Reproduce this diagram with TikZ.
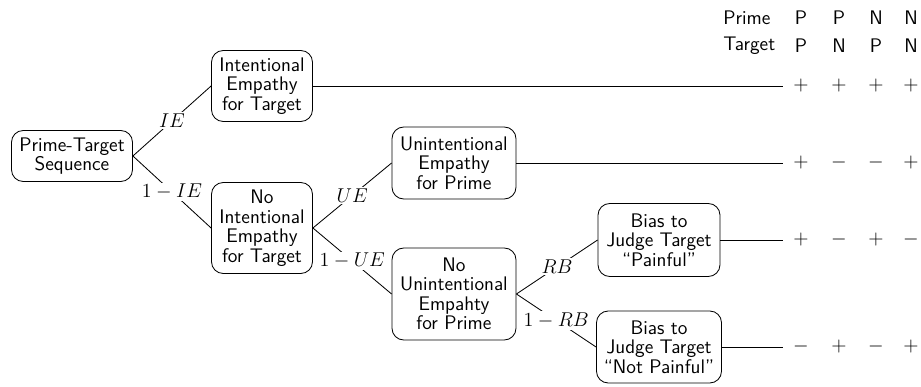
\documentclass[tikz,border=0pt]{standalone}
\begin{document}
\begin{tikzpicture}[x=0.6pt,y=-0.6pt,
  font=\sffamily\fontsize{11.8}{11.7}\selectfont,
  box/.style={draw,rounded corners=7pt,align=center,inner sep=1pt,line width=0.5pt},
  lbl/.style={fill=white,inner sep=1pt,midway},
  conn/.style={line width=0.5pt},
  sgn/.style={inner sep=0pt}]
\useasboundingbox (0,0) rectangle (921,387);
\node[box,minimum width=72.6pt,minimum height=30.6pt] (pts) at (72,156) {Prime-Target\\Sequence};
\node[box,minimum width=60.6pt,minimum height=42.6pt] (ie) at (262,86) {Intentional\\Empathy\\for Target};
\node[box,minimum width=60.6pt,minimum height=54.6pt] (nie) at (262,228) {No\\Intentional\\Empathy\\for Target};
\node[box,minimum width=74.4pt,minimum height=43.2pt] (ue) at (454,163) {Unintentional\\Empathy\\for Prime};
\node[box,minimum width=74.4pt,minimum height=55.2pt] (nue) at (454,294) {No\\Unintentional\\Empahty\\for Prime};
\node[box,minimum width=73.2pt,minimum height=43.8pt] (bp) at (659,240) {Bias to\\Judge Target\\``Painful''};
\node[box,minimum width=75pt,minimum height=43.2pt] (bnp) at (659,347) {Bias to\\Judge Target\\``Not Painful''};

\draw[conn] (pts.east) -- (ie.west) node[lbl] {$IE$};
\draw[conn] (pts.east) -- (nie.west) node[lbl] {$1-IE$};
\draw[conn] (nie.east) -- (ue.west) node[lbl] {$UE$};
\draw[conn] (nie.east) -- (nue.west) node[lbl] {$1-UE$};
\draw[conn] (nue.east) -- (bp.west) node[lbl] {$RB$};
\draw[conn] (nue.east) -- (bnp.west) node[lbl] {$1-RB$};

\coordinate (e1) at (783,86);
\coordinate (e2) at (783,163);
\coordinate (e3) at (783,240);
\coordinate (e4) at (783,347);
\draw[conn] (ie.east) -- (e1);
\draw[conn] (ue.east) -- (e2);
\draw[conn] (bp.east) -- (e3);
\draw[conn] (bnp.east) -- (e4);

\node[anchor=west,inner sep=0pt] (hp) at (723,18) {Prime};
\node[anchor=west,inner sep=0pt] (ht) at (723,46) {Target};
\foreach \x/\a/\b [count=\i] in {801/P/P,839/P/N,876/N/P,911/N/N}{
  \node[sgn] (hp\i) at (\x,18) {\a};
  \node[sgn] (ht\i) at (\x,46) {\b};
}
\foreach \x/\s [count=\i] in {801/+,839/+,876/+,911/+}{\node[sgn] (ra\i) at (\x,86) {$\s$};}
\foreach \x/\s [count=\i] in {801/+,839/-,876/-,911/+}{\node[sgn] (rb\i) at (\x,163) {$\s$};}
\foreach \x/\s [count=\i] in {801/+,839/-,876/+,911/-}{\node[sgn] (rc\i) at (\x,240) {$\s$};}
\foreach \x/\s [count=\i] in {801/-,839/+,876/-,911/+}{\node[sgn] (rd\i) at (\x,347) {$\s$};}
\end{tikzpicture}
\end{document}
